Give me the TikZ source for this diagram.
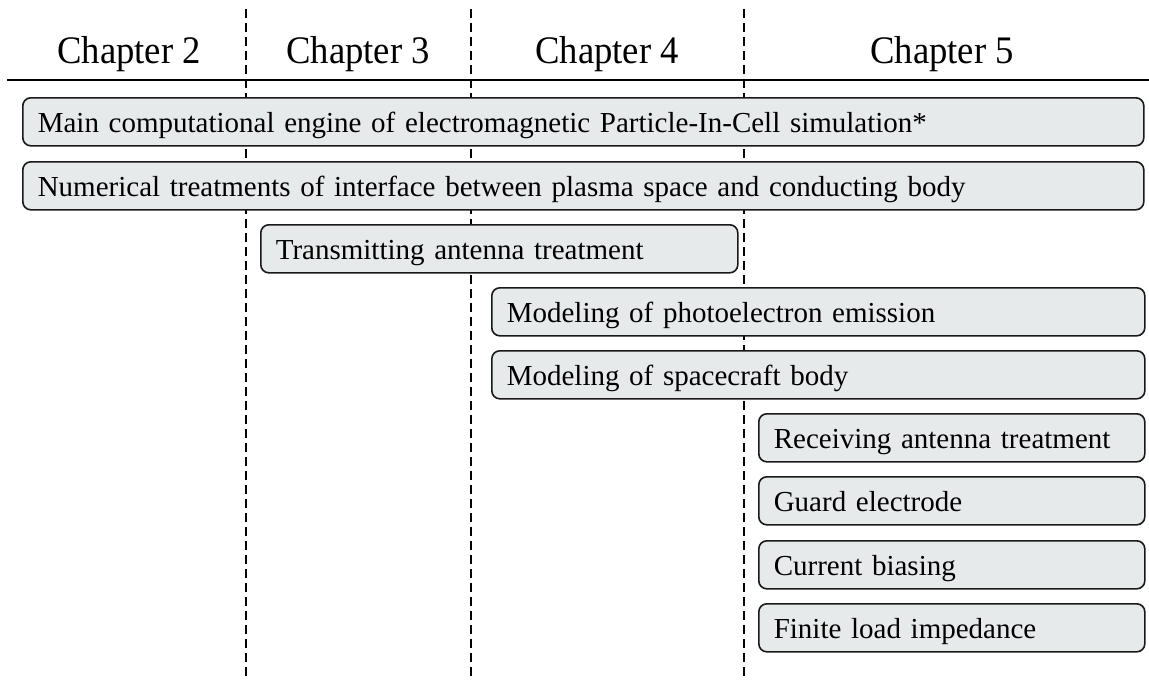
\documentclass[tikz,border=0pt]{standalone}
\usepackage{fontspec}
\usepackage{graphicx}
\setmainfont{Liberation Serif}
\definecolor{boxfill}{RGB}{230,234,234}
\definecolor{boxline}{RGB}{25,25,25}
\newcommand{\chaptxt}[1]{\scalebox{0.94}[1]{#1}}
\begin{document}
\begin{tikzpicture}[x=1pt,y=-1pt,
  chap/.style={font=\fontsize{39}{42}\selectfont, anchor=base, inner sep=0pt},
  item/.style={draw=boxline, line width=1.6pt, fill=boxfill, rounded corners=8pt,
    anchor=north west, minimum height=48pt, inner xsep=15pt, inner ysep=0pt,
    text height=24pt, text depth=2pt, font=\fontsize{29}{31}\selectfont, align=left},
  dashline/.style={line width=2.8pt, dash pattern=on 9pt off 5pt, black},
  rule/.style={line width=2pt, black}]
\useasboundingbox (0,0) rectangle (1149,680);
% dashed separators
\coordinate (d1t) at (246,9);  \coordinate (d1b) at (246,680);
\coordinate (d2t) at (471,9);  \coordinate (d2b) at (471,680);
\coordinate (d3t) at (744,9);  \coordinate (d3b) at (744,680);
\draw[dashline] (d1t) -- (d1b);
\draw[dashline] (d2t) -- (d2b);
\draw[dashline] (d3t) -- (d3b);
% header rule
\coordinate (rl) at (7,80); \coordinate (rr) at (1149,80);
\draw[rule] (rl) -- (rr);
% chapter headings
\node[chap] (c2) at (129,63) {\chaptxt{Chapter 2}};
\node[chap] (c3) at (358,63) {\chaptxt{Chapter 3}};
\node[chap] (c4) at (607,63) {\chaptxt{Chapter 4}};
\node[chap] (c5) at (942,63) {\chaptxt{Chapter 5}};
% boxes
\node[item, text width=1091pt] (b1) at (22,97) {Main computational engine of electromagnetic Particle-In-Cell simulation*};
\node[item, text width=1091pt] (b2) at (22,161) {Numerical treatments of interface between plasma space and conducting body};
\node[item, text width=447pt] (b3) at (260,224) {Transmitting antenna treatment};
\node[item, text width=623pt] (b4) at (491,287) {Modeling of photoelectron emission};
\node[item, text width=623pt] (b5) at (491,350) {Modeling of spacecraft body};
\node[item, text width=356pt] (b6) at (758,413) {Receiving antenna treatment};
\node[item, text width=356pt] (b7) at (758,476) {Guard electrode};
\node[item, text width=356pt] (b8) at (758,540) {Current biasing};
\node[item, text width=356pt] (b9) at (758,603) {Finite load impedance};
\end{tikzpicture}
\end{document}
